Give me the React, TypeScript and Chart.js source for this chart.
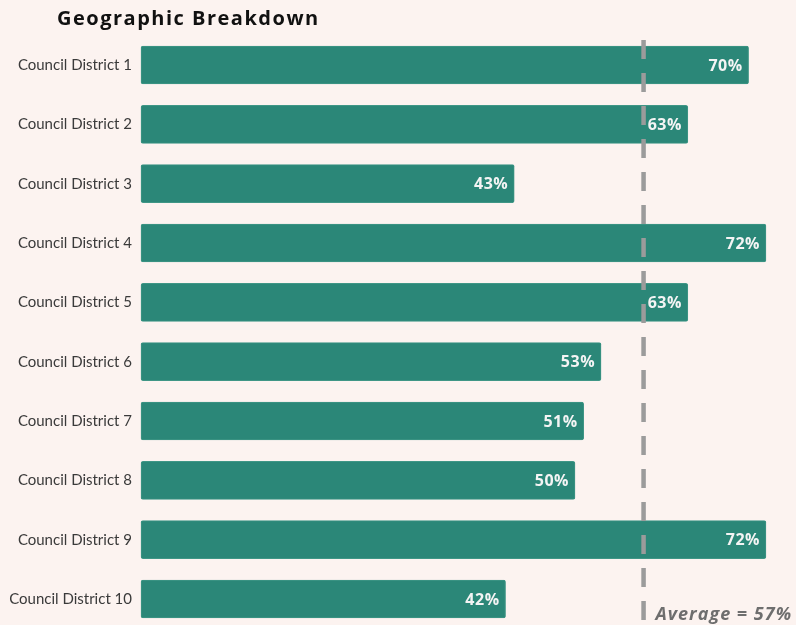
import React, { useEffect, useRef } from "react";
import { Chart, registerables } from "chart.js";

Chart.register(...registerables);

const categories = [
  "Council District 1",
  "Council District 2",
  "Council District 3",
  "Council District 4",
  "Council District 5",
  "Council District 6",
  "Council District 7",
  "Council District 8",
  "Council District 9",
  "Council District 10",
];
const values = [70, 63, 43, 72, 63, 53, 51, 50, 72, 42];
const averageLineValue = 57.9;
const averageLabel = "Average = 57%";
const titleText = "Geographic Breakdown";

const BG = "#fcf3f0";
const BAR = "#2b8778";

export default function App() {
  const ref = useRef<HTMLCanvasElement | null>(null);

  useEffect(() => {
    document.body.style.margin = "0";
    document.body.style.background = BG;
    const canvas = ref.current;
    if (!canvas) return;

    const bgPlugin = {
      id: "bg",
      beforeDraw(chart: any) {
        const { ctx, width, height } = chart;
        ctx.save();
        ctx.fillStyle = BG;
        ctx.fillRect(0, 0, width, height);
        ctx.restore();
      },
    };

    const overlay = {
      id: "overlay",
      afterDatasetsDraw(chart: any) {
        const { ctx, chartArea, height } = chart;
        const x = chart.scales.x.getPixelForValue(averageLineValue);
        ctx.save();
        ctx.strokeStyle = "#9b9b9b";
        ctx.lineWidth = 4.5;
        ctx.setLineDash([19, 14]);
        ctx.beginPath();
        ctx.moveTo(x, chartArea.top - 25);
        ctx.lineTo(x, height);
        ctx.stroke();
        ctx.restore();
      },
      afterDraw(chart: any) {
        const { ctx, height } = chart;
        const meta = chart.getDatasetMeta(0);
        ctx.save();
        // value labels
        ctx.font = "bold 16px 'Open Sans', 'DejaVu Sans', sans-serif";
        (ctx as any).letterSpacing = "0.5px";
        ctx.fillStyle = "#f4f4f4";
        ctx.textAlign = "right";
        ctx.textBaseline = "middle";
        meta.data.forEach((bar: any, i: number) => {
          ctx.fillText(values[i] + "%", bar.x - 6, bar.y + 1);
        });
        // title
        ctx.font = "bold 20px 'Open Sans', 'DejaVu Sans', sans-serif";
        (ctx as any).letterSpacing = "1.5px";
        ctx.fillStyle = "#111111";
        ctx.textAlign = "left";
        ctx.fillText(titleText, 57, 19);
        // average label
        const x = chart.scales.x.getPixelForValue(averageLineValue);
        ctx.font = "italic bold 18px 'Open Sans', 'DejaVu Sans', sans-serif";
        (ctx as any).letterSpacing = "1px";
        ctx.fillStyle = "#6e6e6e";
        ctx.textAlign = "left";
        ctx.fillText(averageLabel, x + 12, height - 10);
        ctx.restore();
      },
    };

    const chart = new Chart(canvas, {
      type: "bar",
      data: {
        labels: categories,
        datasets: [
          {
            data: values,
            backgroundColor: BAR,
            borderColor: "#3f9686",
            borderWidth: 1,
            borderRadius: 2,
            borderSkipped: false,
            barThickness: 38,
            clip: false as any,
          },
        ],
      },
      options: {
        indexAxis: "y",
        animation: false,
        responsive: false,
        maintainAspectRatio: false,
        layout: { padding: { top: 65, bottom: 26, left: 0, right: 4 } },
        plugins: {
          legend: { display: false },
          tooltip: { enabled: false },
          title: { display: false },
        },
        scales: {
          x: {
            display: false,
            min: 0,
            max: 75,
          },
          y: {
            offset: false,
            grid: { display: false, drawTicks: false },
            border: { display: false },
            ticks: {
              padding: 9,
              color: "#3a3a3a",
              font: { family: "Lato, 'DejaVu Sans', sans-serif", size: 15 },
            },
            afterFit(scale: any) {
              scale.width = 141;
            },
          },
        },
      },
      plugins: [bgPlugin, overlay],
    });

    return () => chart.destroy();
  }, []);

  return (
    <div style={{ position: "fixed", left: 0, top: 0, width: 796, height: 625, background: BG }}>
      <canvas ref={ref} width={796} height={625} style={{ width: 796, height: 625, display: "block" }} />
    </div>
  );
}
